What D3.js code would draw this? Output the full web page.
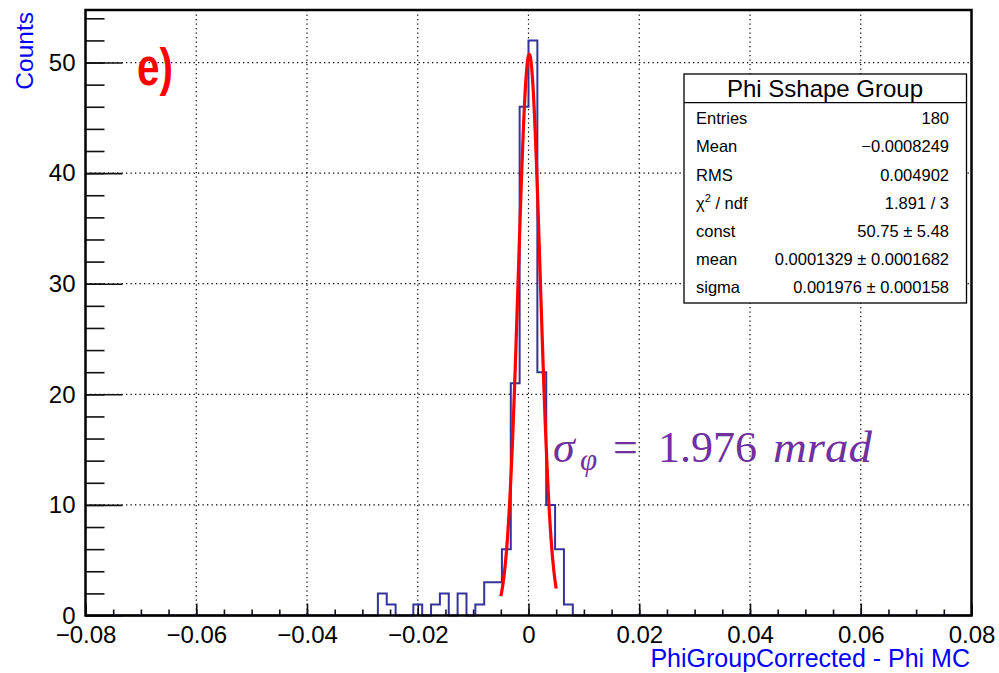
<!DOCTYPE html>
<html>
<head>
<meta charset="utf-8">
<script src="https://cdn.jsdelivr.net/npm/d3@7"></script>
<style>
body { margin: 0; background: #fff; }
svg text { font-family: "Liberation Sans", Arial, sans-serif; }
</style>
</head>
<body>
<svg width="999" height="673"></svg>
<script>
// histogram: 100 bins from -0.08 to 0.08
var xMin = -0.08, xMax = 0.08;
var counts = [
  0,0,0,0,0,0,0,0,0,0, 0,0,0,0,0,0,0,0,0,0,
  0,0,0,0,0,0,0,0,0,0, 0,0,0,2,1,0,0,1,0,1,
  2,0,2,0,1,3,3,6,21,46, 52,22,10,6,1,0,0,0,0,0,
  0,0,0,0,0,0,0,0,0,0, 0,0,0,0,0,0,0,0,0,0,
  0,0,0,0,0,0,0,0,0,0, 0,0,0,0,0,0,0,0,0,0
];

var xMajor = [-0.08, -0.06, -0.04, -0.02, 0, 0.02, 0.04, 0.06, 0.08];
var xLabels = ["\u22120.08", "\u22120.06", "\u22120.04", "\u22120.02", "0", "0.02", "0.04", "0.06", "0.08"];
var yMajor = [0, 10, 20, 30, 40, 50];

// gaussian fit
var fitConst = 50.75, fitMean = 0.0001329, fitSigma = 0.001976;
var fitRange = [-0.005, 0.005];

var statNames = ["Entries", "Mean", "RMS", "chi2", "const", "mean", "sigma"];
var statValues = ["180", "\u22120.0008249", "0.004902", "1.891 / 3", "50.75 \u00b1 5.48",
                  "0.0001329 \u00b1 0.0001682", "0.001976 \u00b1 0.000158"];

var svg = d3.select("svg");
var padL = 85.5, padR = 971.5, padT = 10, padB = 615.5;

var x = d3.scaleLinear().domain([xMin, xMax]).range([padL, padR]);
var y = d3.scaleLinear().domain([0, 54.75]).range([padB, padT]);

svg.append("rect").attr("width", 999).attr("height", 673).attr("fill", "#fff");

// grid
var grid = svg.append("g").attr("stroke", "#000").attr("stroke-width", 1.2)
  .attr("stroke-dasharray", "1.3,3.2");
grid.selectAll(".gx").data(xMajor.slice(1, -1)).enter().append("line")
  .attr("x1", d => x(d)).attr("x2", d => x(d)).attr("y1", padT).attr("y2", padB);
grid.selectAll(".gy").data(yMajor.slice(1)).enter().append("line")
  .attr("x1", padL).attr("x2", padR).attr("y1", d => y(d)).attr("y2", d => y(d));

// axes
function styleAxis(g) {
  g.select(".domain").remove();
  g.selectAll("line").attr("stroke", "#111").attr("stroke-width", 1.6);
  g.selectAll("text").attr("fill", "#000").style("font-size", "24px")
    .style("font-family", "'Liberation Sans', Arial, sans-serif");
}

svg.append("g").attr("transform", "translate(0," + padB + ")")
  .call(d3.axisBottom(x).tickValues(xMajor).tickSize(-12).tickPadding(10)
    .tickFormat((d, i) => xLabels[i]))
  .call(styleAxis);
svg.append("g").attr("transform", "translate(0," + padB + ")")
  .call(d3.axisBottom(x).tickValues(d3.range(0, 33).map(i => xMin + i * 0.005)).tickSize(-6).tickFormat(""))
  .call(styleAxis);

svg.append("g").attr("transform", "translate(" + padL + ",0)")
  .call(d3.axisLeft(y).tickValues(yMajor).tickSize(-37).tickPadding(10))
  .call(styleAxis);
svg.append("g").attr("transform", "translate(" + padL + ",0)")
  .call(d3.axisLeft(y).tickValues(d3.range(0, 55, 2)).tickSize(-19).tickFormat(""))
  .call(styleAxis);

// histogram outline
var binW = (xMax - xMin) / counts.length;
var pts = [[xMin, 0]]
  .concat(counts.map((c, i) => [xMin + i * binW, c]))
  .concat([[xMax, counts[counts.length - 1]], [xMax, 0]]);

var histLine = d3.line().x(d => x(d[0])).y(d => y(d[1])).curve(d3.curveStepAfter);
svg.append("path").attr("d", histLine(pts))
  .attr("fill", "none").attr("stroke", "#333399").attr("stroke-width", 2);

// fit curve
var fitPts = d3.range(0, 101).map(function(i) {
  var v = fitRange[0] + i * (fitRange[1] - fitRange[0]) / 100;
  return [v, fitConst * Math.exp(-0.5 * Math.pow((v - fitMean) / fitSigma, 2))];
});
svg.append("path").attr("d", d3.line().x(d => x(d[0])).y(d => y(d[1]))(fitPts))
  .attr("fill", "none").attr("stroke", "#ff0000").attr("stroke-width", 3.2);

// frame
svg.append("rect").attr("x", padL).attr("y", padT)
  .attr("width", padR - padL).attr("height", padB - padT)
  .attr("fill", "none").attr("stroke", "#000").attr("stroke-width", 2.5);

// stats box
var sb = svg.append("g");
sb.append("rect").attr("x", 684).attr("y", 74).attr("width", 282.5).attr("height", 229)
  .attr("fill", "#fff").attr("stroke", "#000").attr("stroke-width", 1.3);
sb.append("line").attr("x1", 684).attr("x2", 966.5).attr("y1", 102.7).attr("y2", 102.7)
  .attr("stroke", "#000").attr("stroke-width", 1.3);
sb.append("text").attr("x", 825).attr("y", 96.5).attr("text-anchor", "middle")
  .style("font-size", "24px").text("Phi Sshape Group");

statNames.forEach(function(n, i) {
  var yy = 124.3 + i * 28.1;
  var t = sb.append("text").attr("x", 696).attr("y", yy).style("font-size", "16.5px");
  if (n === "chi2") {
    t.append("tspan").text("\u03c7");
    t.append("tspan").attr("dy", -7).style("font-size", "11px").text("2");
    t.append("tspan").attr("dy", 7).text(" / ndf");
  } else {
    t.text(n);
  }
  sb.append("text").attr("x", 949).attr("y", yy).attr("text-anchor", "end")
    .style("font-size", "16.5px").text(statValues[i]);
});

// axis titles
svg.append("text").attr("x", 970).attr("y", 667).attr("text-anchor", "end")
  .attr("fill", "#0000ff").style("font-size", "25px").text("PhiGroupCorrected - Phi MC");
svg.append("text").attr("transform", "translate(33,12) rotate(-90)").attr("text-anchor", "end")
  .attr("fill", "#0000ff").style("font-size", "24.5px").text("Counts");

// panel label
svg.append("text").attr("transform", "translate(137,85) scale(1,1.3)")
  .attr("fill", "#ff0000").style("font-size", "40px").style("font-weight", "bold")
  .attr("textLength", 36).attr("lengthAdjust", "spacingAndGlyphs").text("e)");

// sigma annotation
var ann = svg.append("text").attr("y", 462).attr("fill", "#7030a0")
  .style("font-family", "'Liberation Serif', 'DejaVu Serif', serif").style("font-size", "44px");
ann.append("tspan").attr("x", 553).style("font-style", "italic").text("\u03c3");
ann.append("tspan").attr("x", 580).attr("dy", 8).style("font-style", "italic")
  .style("font-size", "31px").text("\u03c6");
ann.append("tspan").attr("x", 613).attr("dy", -8).text("=");
ann.append("tspan").attr("x", 658).text("1.976");
ann.append("tspan").attr("x", 773).style("font-style", "italic")
  .attr("textLength", 99).attr("lengthAdjust", "spacingAndGlyphs").text("mrad");
</script>
</body>
</html>
